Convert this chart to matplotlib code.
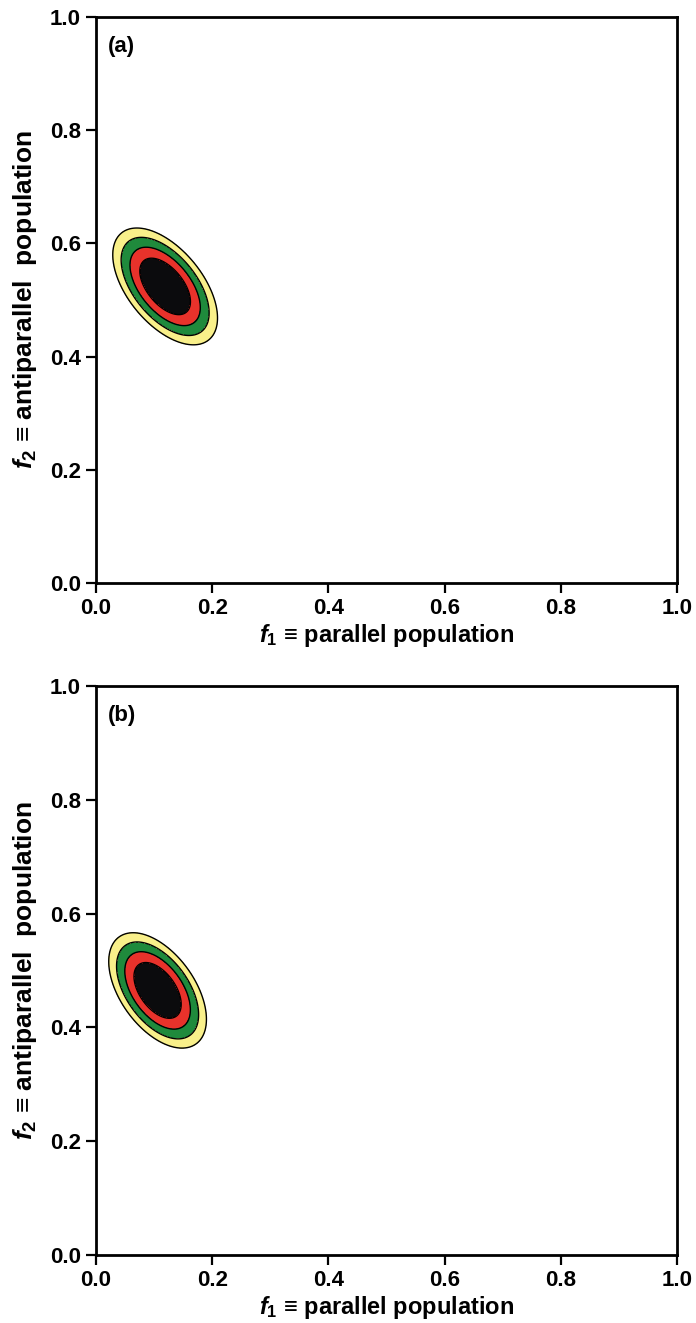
import numpy as np
import matplotlib
matplotlib.use("Agg")
import matplotlib.pyplot as plt

plt.rcParams['font.family'] = ['Liberation Sans', 'DejaVu Sans']
plt.rcParams['font.weight'] = 'bold'
plt.rcParams['mathtext.fontset'] = 'custom'
plt.rcParams['mathtext.it'] = 'Liberation Sans:bold:italic'
plt.rcParams['mathtext.rm'] = 'Liberation Sans:bold'
plt.rcParams['mathtext.bf'] = 'Liberation Sans:bold'

# Data
panel_labels = ["(a)", "(b)"]
center_f1 = [0.119, 0.106]
center_f2 = [0.524, 0.465]
sigma_f1 = [0.0297, 0.0277]
sigma_f2 = [0.0340, 0.0334]
rho = [-0.54, -0.50]
delta_chi2_levels = [0.0, 2.15, 4.15, 6.5, 9.21]
fill_colors = ["#0b0b0d", "#e8322b", "#1f8a3c", "#f9f08a"]
tick_values = [0.0, 0.2, 0.4, 0.6, 0.8, 1.0]
tick_labels = ["0.0", "0.2", "0.4", "0.6", "0.8", "1.0"]
xlabel = r"$f_{\mathrm{1}}$ ≡ parallel population"
ylabel = r"$f_{\mathrm{2}}$ ≡ antiparallel  population"

fig = plt.figure(figsize=(6.96, 13.23), dpi=100)
rects = [[96/696, (1323-583)/1323, 581/696, 566/1323],
         [96/696, (1323-1255)/1323, 581/696, 569/1323]]

g1 = np.linspace(0, 1, 1001)
G1, G2 = np.meshgrid(g1, g1)

for i, rect in enumerate(rects):
    ax = fig.add_axes(rect)
    dx = (G1 - center_f1[i]) / sigma_f1[i]
    dy = (G2 - center_f2[i]) / sigma_f2[i]
    r = rho[i]
    chi2 = (dx**2 - 2*r*dx*dy + dy**2) / (1 - r**2)
    ax.contourf(G1, G2, chi2, levels=delta_chi2_levels, colors=fill_colors)
    ax.contour(G1, G2, chi2, levels=delta_chi2_levels[1:], colors='black', linewidths=1.0)
    ax.set_xlim(0, 1)
    ax.set_ylim(0, 1)
    ax.set_xticks(tick_values)
    ax.set_xticklabels(tick_labels)
    ax.set_yticks(tick_values)
    ax.set_yticklabels(tick_labels)
    for sp in ax.spines.values():
        sp.set_linewidth(2.0)
    ax.tick_params(direction='out', length=7, width=1.6, labelsize=16, pad=4)
    for lab in ax.get_xticklabels() + ax.get_yticklabels():
        lab.set_fontweight('bold')
    ax.set_xlabel(xlabel, fontsize=17, fontweight='bold', labelpad=2)
    ax.set_ylabel(ylabel, fontsize=19, fontweight='bold', labelpad=8)
    ax.text(0.021, 0.966, panel_labels[i], transform=ax.transAxes, fontsize=16,
            fontweight='bold', va='top', ha='left')

fig.savefig("out.png", dpi=100)
